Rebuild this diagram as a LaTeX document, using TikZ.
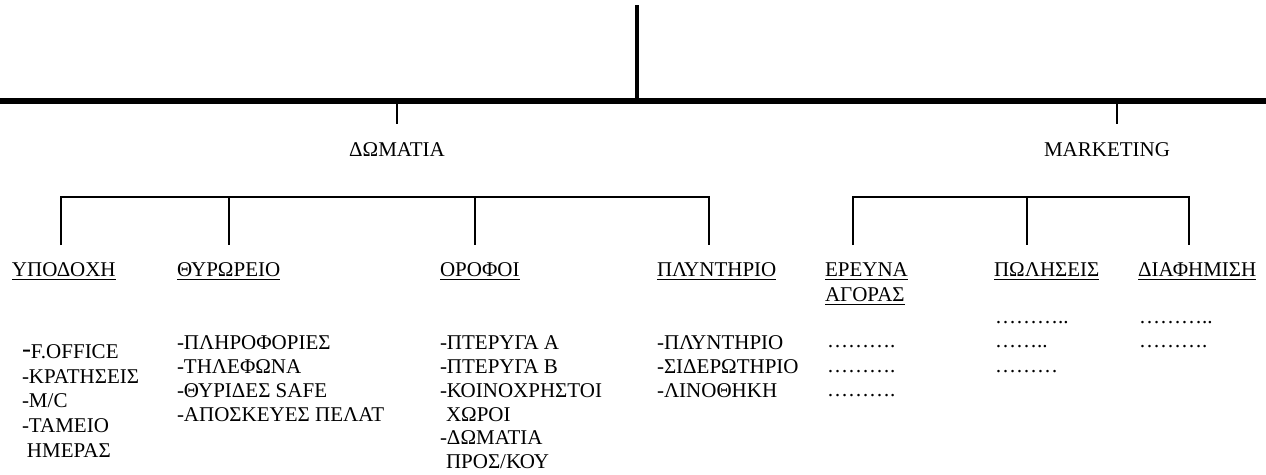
\documentclass[tikz,border=0pt]{standalone}
\usepackage{fontspec}
\setmainfont{Liberation Serif}
\begin{document}
\begin{tikzpicture}[x=1pt,y=-1pt,
  txt/.style={inner sep=0pt, outer sep=0pt, anchor=base west, font=\fontsize{21}{24}\selectfont},
  mid/.style={txt, anchor=base},
  bar/.style={line width=6pt},
  stem/.style={line width=4.5pt},
  link/.style={line width=1.5pt},
  uline/.style={line width=1.8pt}]
\useasboundingbox (0,0) rectangle (1266,474);

% main bar and the stem above it
\coordinate (top)  at (637,5);
\coordinate (join) at (637,101);
\coordinate (barL) at (0,101);
\coordinate (barR) at (1266,101);
\draw[bar] (barL) -- (barR);
\draw[stem] (top) -- ([yshift=3pt]join);

% departments
\coordinate (tD0) at (397,104);
\coordinate (tD1) at (397,124);
\coordinate (tM0) at (1117,104);
\coordinate (tM1) at (1117,124);
\draw[link] (tD0) -- (tD1);
\draw[link] (tM0) -- (tM1);
\node[mid] (dom) at (397,156) {ΔΩΜΑΤΙΑ};
\node[mid] (mkt) at (1107,156) {MARKETING};

% rooms branch
\coordinate (a1) at (61,197);  \coordinate (a1e) at (61,245);
\coordinate (a2) at (229,197); \coordinate (a2e) at (229,245);
\coordinate (a3) at (475,197); \coordinate (a3e) at (475,245);
\coordinate (a4) at (709,197); \coordinate (a4e) at (709,245);
\draw[link] (a1e) -- (a1) -- (a4) -- (a4e);
\draw[link] (a2) -- (a2e);
\draw[link] (a3) -- (a3e);

% marketing branch
\coordinate (m1) at (853,197);  \coordinate (m1e) at (853,245);
\coordinate (m2) at (1027,197); \coordinate (m2e) at (1027,245);
\coordinate (m3) at (1189,197); \coordinate (m3e) at (1189,245);
\draw[link] (m1e) -- (m1) -- (m3) -- (m3e);
\draw[link] (m2) -- (m2e);

% section headings
\node[txt] (h1)  at (12,276)   {ΥΠΟΔΟΧΗ};
\node[txt] (h2)  at (177,276)  {ΘΥΡΩΡΕΙΟ};
\node[txt] (h3)  at (440,276)  {ΟΡΟΦΟΙ};
\node[txt] (h4)  at (657,276)  {ΠΛΥΝΤΗΡΙΟ};
\node[txt] (h5)  at (825,276)  {ΕΡΕΥΝΑ};
\node[txt] (h5b) at (825,301)  {ΑΓΟΡΑΣ};
\node[txt] (h6)  at (994,276)  {ΠΩΛΗΣΕΙΣ};
\node[txt] (h7)  at (1138,276) {ΔΙΑΦΗΜΙΣΗ};
\foreach \h in {h1,h2,h3,h4,h5,h5b,h6,h7}
  \draw[uline] ([yshift=-3.5pt]\h.base west) -- ([yshift=-3.5pt]\h.base east);

% reception
\node[txt] (r1) at (22,358) {\raisebox{0.5pt}{\fontsize{27}{27}\selectfont -}F.OFFICE};
\node[txt] (r2) at (22,383) {-ΚΡΑΤΗΣΕΙΣ};
\node[txt] (r3) at (22,407) {-M/C};
\node[txt] (r4) at (22,432) {-ΤΑΜΕΙΟ};
\node[txt] (r5) at (27,457) {ΗΜΕΡΑΣ};

% porter's desk
\node[txt] (p1) at (177,349) {-ΠΛΗΡΟΦΟΡΙΕΣ};
\node[txt] (p2) at (177,373) {-ΤΗΛΕΦΩΝΑ};
\node[txt] (p3) at (177,397) {-ΘΥΡΙΔΕΣ SAFE};
\node[txt] (p4) at (177,421) {-ΑΠΟΣΚΕΥΕΣ ΠΕΛΑΤ};

% floors
\node[txt] (f1) at (440,349) {-ΠΤΕΡΥΓΑ Α};
\node[txt] (f2) at (440,373) {-ΠΤΕΡΥΓΑ Β};
\node[txt] (f3) at (440,397) {-ΚΟΙΝΟΧΡΗΣΤΟΙ};
\node[txt] (f4) at (446,421) {ΧΩΡΟΙ};
\node[txt] (f5) at (440,444) {-ΔΩΜΑΤΙΑ};
\node[txt] (f6) at (446,468) {ΠΡΟΣ/ΚΟΥ};

% laundry
\node[txt] (l1) at (657,349) {-ΠΛΥΝΤΗΡΙΟ};
\node[txt] (l2) at (657,373) {-ΣΙΔΕΡΩΤΗΡΙΟ};
\node[txt] (l3) at (657,397) {-ΛΙΝΟΘΗΚΗ};

% marketing placeholders
\node[txt] (e1) at (827,347) {……….};
\node[txt] (e2) at (827,372) {……….};
\node[txt] (e3) at (827,396) {……….};
\node[txt] (s1) at (995,323) {………..};
\node[txt] (s2) at (995,347) {……..};
\node[txt] (s3) at (995,372) {………};
\node[txt] (d1) at (1139,323) {………..};
\node[txt] (d2) at (1139,347) {……….};
\end{tikzpicture}
\end{document}
